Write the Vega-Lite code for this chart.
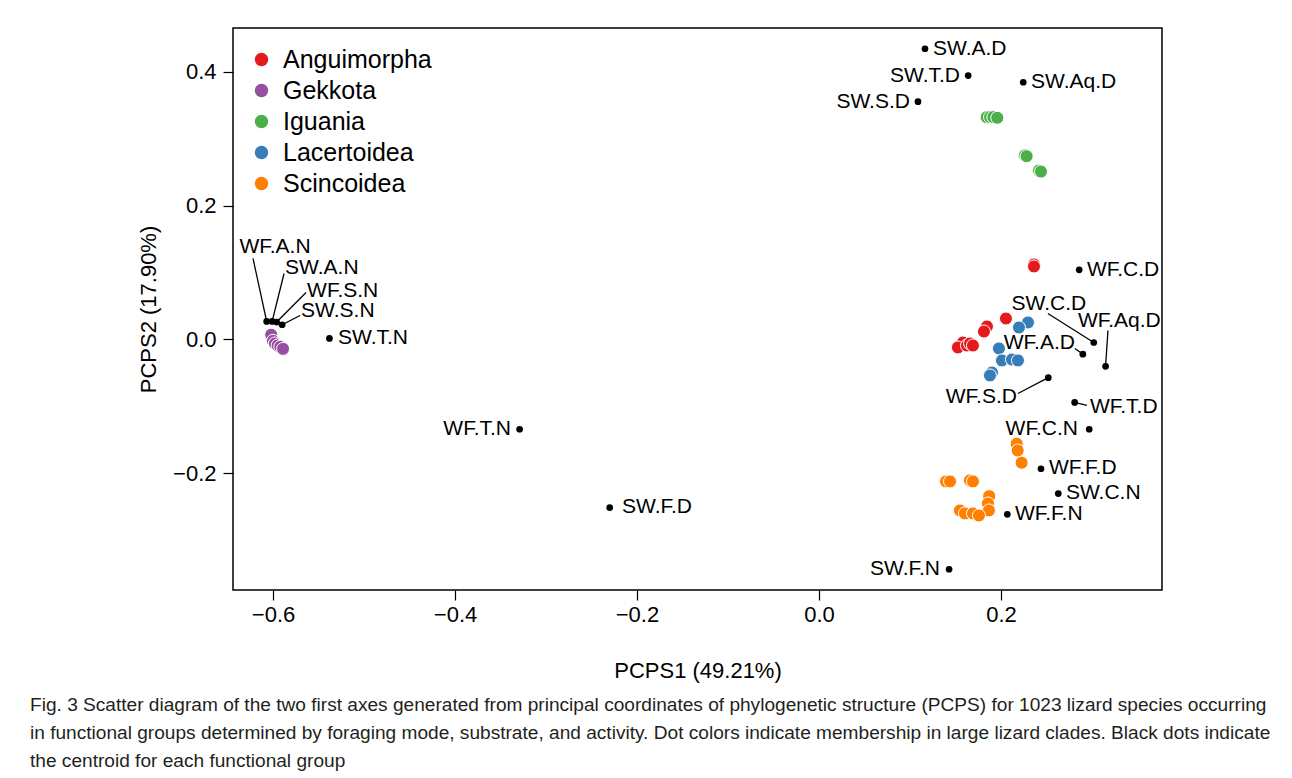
{
  "$schema": "https://vega.github.io/schema/vega-lite/v6.json",
  "width": 929,
  "height": 562,
  "autosize": "none",
  "padding": {"left": 233, "top": 28, "right": 130, "bottom": 188},
  "background": "white",
  "config": {
    "font": "Liberation Sans",
    "view": {"stroke": "black", "strokeWidth": 1.5},
    "axis": {
      "grid": false, "domain": false, "tickColor": "black", "tickWidth": 1.2,
      "tickSize": 10, "labelColor": "black", "labelFontSize": 22, "titleFontSize": 22,
      "titleFontWeight": "normal", "titleColor": "black", "labelFont": "Liberation Sans", "titleFont": "Liberation Sans"
    }
  },
  "title": {
    "text": [
      "Fig. 3  Scatter diagram of the two first axes generated from principal coordinates of phylogenetic structure (PCPS) for 1023 lizard species occurring",
      "in functional groups determined by foraging mode, substrate, and activity. Dot colors indicate membership in large lizard clades. Black dots indicate",
      "the centroid for each functional group"
    ],
    "orient": "bottom", "anchor": "start", "frame": "group", "dx": -203, "offset": 15,
    "font": "Liberation Sans", "fontSize": 19.1, "fontWeight": "normal", "lineHeight": 28, "color": "#231f20"
  },
  "datasets": {
    "clades": [
      {"clade": "Gekkota", "x": -0.602, "y": 0.007},
      {"clade": "Gekkota", "x": -0.600, "y": -0.002},
      {"clade": "Gekkota", "x": -0.598, "y": -0.006},
      {"clade": "Gekkota", "x": -0.595, "y": -0.009},
      {"clade": "Gekkota", "x": -0.592, "y": -0.011},
      {"clade": "Gekkota", "x": -0.589, "y": -0.014},
      {"clade": "Iguania", "x": 0.1843, "y": 0.3318},
      {"clade": "Iguania", "x": 0.188, "y": 0.332},
      {"clade": "Iguania", "x": 0.1916, "y": 0.332},
      {"clade": "Iguania", "x": 0.196, "y": 0.331},
      {"clade": "Iguania", "x": 0.2264, "y": 0.275},
      {"clade": "Iguania", "x": 0.2282, "y": 0.2736},
      {"clade": "Iguania", "x": 0.2418, "y": 0.2522},
      {"clade": "Iguania", "x": 0.244, "y": 0.2507},
      {"clade": "Anguimorpha", "x": 0.2363, "y": 0.112},
      {"clade": "Anguimorpha", "x": 0.2363, "y": 0.109},
      {"clade": "Anguimorpha", "x": 0.2055, "y": 0.0313},
      {"clade": "Anguimorpha", "x": 0.1846, "y": 0.0194},
      {"clade": "Anguimorpha", "x": 0.1813, "y": 0.0119},
      {"clade": "Anguimorpha", "x": 0.1582, "y": -0.0045},
      {"clade": "Anguimorpha", "x": 0.1527, "y": -0.0119},
      {"clade": "Anguimorpha", "x": 0.1626, "y": -0.009},
      {"clade": "Anguimorpha", "x": 0.166, "y": -0.006},
      {"clade": "Anguimorpha", "x": 0.1692, "y": -0.009},
      {"clade": "Lacertoidea", "x": 0.2297, "y": 0.0254},
      {"clade": "Lacertoidea", "x": 0.2198, "y": 0.0179},
      {"clade": "Lacertoidea", "x": 0.1978, "y": -0.0134},
      {"clade": "Lacertoidea", "x": 0.2011, "y": -0.0313},
      {"clade": "Lacertoidea", "x": 0.2121, "y": -0.0299},
      {"clade": "Lacertoidea", "x": 0.2187, "y": -0.0313},
      {"clade": "Lacertoidea", "x": 0.1901, "y": -0.0493},
      {"clade": "Lacertoidea", "x": 0.1879, "y": -0.0537},
      {"clade": "Scincoidea", "x": 0.2173, "y": -0.1557},
      {"clade": "Scincoidea", "x": 0.2184, "y": -0.1657},
      {"clade": "Scincoidea", "x": 0.2227, "y": -0.184},
      {"clade": "Scincoidea", "x": 0.1396, "y": -0.2119},
      {"clade": "Scincoidea", "x": 0.144, "y": -0.2119},
      {"clade": "Scincoidea", "x": 0.1659, "y": -0.2104},
      {"clade": "Scincoidea", "x": 0.1692, "y": -0.2119},
      {"clade": "Scincoidea", "x": 0.1871, "y": -0.2339},
      {"clade": "Scincoidea", "x": 0.1857, "y": -0.2448},
      {"clade": "Scincoidea", "x": 0.1868, "y": -0.2552},
      {"clade": "Scincoidea", "x": 0.1549, "y": -0.2552},
      {"clade": "Scincoidea", "x": 0.1604, "y": -0.2597},
      {"clade": "Scincoidea", "x": 0.1692, "y": -0.2597},
      {"clade": "Scincoidea", "x": 0.1758, "y": -0.2627}
    ],
    "centroids": [
      {"name": "SW.A.D", "x": 0.1165, "y": 0.434, "tx": 0.1253, "ty": 0.434, "anchor": "start"},
      {"name": "SW.T.D", "x": 0.164, "y": 0.394, "tx": 0.155, "ty": 0.394, "anchor": "end"},
      {"name": "SW.Aq.D", "x": 0.2245, "y": 0.384, "tx": 0.233, "ty": 0.384, "anchor": "start"},
      {"name": "SW.S.D", "x": 0.1088, "y": 0.355, "tx": 0.100, "ty": 0.355, "anchor": "end"},
      {"name": "WF.C.D", "x": 0.286, "y": 0.104, "tx": 0.2945, "ty": 0.104, "anchor": "start"},
      {"name": "SW.C.D", "x": 0.302, "y": -0.0045, "tx": 0.2527, "ty": 0.0537, "anchor": "middle", "lx": 0.2516, "ly": 0.0388},
      {"name": "WF.Aq.D", "x": 0.315, "y": -0.040, "tx": 0.2846, "ty": 0.0269, "anchor": "start", "lx": 0.3176, "ly": 0.0134},
      {"name": "WF.A.D", "x": 0.290, "y": -0.022, "tx": 0.2813, "ty": -0.006, "anchor": "end", "lx": 0.2813, "ly": -0.0134},
      {"name": "WF.S.D", "x": 0.252, "y": -0.057, "tx": 0.2176, "ty": -0.0866, "anchor": "end", "lx": 0.2187, "ly": -0.0806},
      {"name": "WF.T.D", "x": 0.281, "y": -0.094, "tx": 0.2978, "ty": -0.1015, "anchor": "start", "lx": 0.2945, "ly": -0.0985},
      {"name": "WF.C.N", "x": 0.297, "y": -0.134, "tx": 0.2846, "ty": -0.134, "anchor": "end"},
      {"name": "WF.F.D", "x": 0.244, "y": -0.193, "tx": 0.2527, "ty": -0.1925, "anchor": "start"},
      {"name": "SW.C.N", "x": 0.263, "y": -0.230, "tx": 0.2714, "ty": -0.2299, "anchor": "start"},
      {"name": "WF.F.N", "x": 0.207, "y": -0.261, "tx": 0.2154, "ty": -0.261, "anchor": "start"},
      {"name": "SW.F.N", "x": 0.143, "y": -0.343, "tx": 0.133, "ty": -0.343, "anchor": "end"},
      {"name": "WF.T.N", "x": -0.329, "y": -0.134, "tx": -0.3385, "ty": -0.134, "anchor": "end"},
      {"name": "SW.F.D", "x": -0.230, "y": -0.251, "tx": -0.2165, "ty": -0.2507, "anchor": "start"},
      {"name": "SW.T.N", "x": -0.538, "y": 0.0015, "tx": -0.5286, "ty": 0.0015, "anchor": "start"},
      {"name": "WF.A.N", "x": -0.607, "y": 0.027, "tx": -0.5978, "ty": 0.1388, "anchor": "middle", "lx": -0.622, "ly": 0.121},
      {"name": "SW.A.N", "x": -0.601, "y": 0.027, "tx": -0.5868, "ty": 0.106, "anchor": "start", "lx": -0.5879, "ly": 0.0985},
      {"name": "WF.S.N", "x": -0.596, "y": 0.026, "tx": -0.5626, "ty": 0.0731, "anchor": "start", "lx": -0.5637, "ly": 0.0701},
      {"name": "SW.S.N", "x": -0.590, "y": 0.022, "tx": -0.5692, "ty": 0.0418, "anchor": "start", "lx": -0.5703, "ly": 0.0358}
    ]
  },
  "layer": [
    {
      "data": {"name": "clades"},
      "mark": {"type": "point", "shape": "circle", "filled": true, "size": 170, "opacity": 1, "stroke": "white", "strokeWidth": 1},
      "encoding": {
        "x": {"field": "x", "type": "quantitative", "title": "PCPS1 (49.21%)",
              "scale": {"domain": [-0.644, 0.377], "nice": false, "zero": false},
              "axis": {"values": [-0.6, -0.4, -0.2, 0, 0.2], "format": ".1f", "labelPadding": 4, "titlePadding": 35}},
        "y": {"field": "y", "type": "quantitative", "title": "PCPS2 (17.90%)",
              "scale": {"domain": [-0.374, 0.465], "nice": false, "zero": false},
              "axis": {"values": [-0.2, 0, 0.2, 0.4], "format": ".1f", "labelPadding": 7, "titlePadding": 12}},
        "color": {"field": "clade", "type": "nominal",
                  "scale": {"domain": ["Anguimorpha", "Gekkota", "Iguania", "Lacertoidea", "Scincoidea"],
                            "range": ["#E41A1C", "#984EA3", "#4DAF4A", "#377EB8", "#FF7F00"]},
                  "legend": {"orient": "none", "legendX": 16, "legendY": 19, "title": null, "padding": 0,
                             "labelFontSize": 25, "labelColor": "black", "symbolSize": 180, "symbolType": "circle",
                             "symbolStrokeWidth": 0, "rowPadding": 5, "labelOffset": 9}}
      }
    },
    {
      "data": {"name": "centroids"},
      "transform": [{"filter": "isValid(datum.lx)"}],
      "mark": {"type": "rule", "color": "black", "strokeWidth": 1.3},
      "encoding": {
        "x": {"field": "x", "type": "quantitative", "title": "PCPS1 (49.21%)"},
        "y": {"field": "y", "type": "quantitative", "title": "PCPS2 (17.90%)"},
        "x2": {"field": "lx"},
        "y2": {"field": "ly"}
      }
    },
    {
      "data": {"name": "centroids"},
      "mark": {"type": "point", "shape": "circle", "filled": true, "size": 45, "color": "black", "opacity": 1},
      "encoding": {
        "x": {"field": "x", "type": "quantitative", "title": "PCPS1 (49.21%)"},
        "y": {"field": "y", "type": "quantitative", "title": "PCPS2 (17.90%)"}
      }
    },
    {
      "data": {"name": "centroids"},
      "transform": [{"filter": "datum.anchor == 'start'"}],
      "mark": {"type": "text", "align": "left", "baseline": "middle", "fontSize": 21, "color": "black"},
      "encoding": {
        "x": {"field": "tx", "type": "quantitative", "title": "PCPS1 (49.21%)"},
        "y": {"field": "ty", "type": "quantitative", "title": "PCPS2 (17.90%)"},
        "text": {"field": "name"}
      }
    },
    {
      "data": {"name": "centroids"},
      "transform": [{"filter": "datum.anchor == 'end'"}],
      "mark": {"type": "text", "align": "right", "baseline": "middle", "fontSize": 21, "color": "black"},
      "encoding": {
        "x": {"field": "tx", "type": "quantitative", "title": "PCPS1 (49.21%)"},
        "y": {"field": "ty", "type": "quantitative", "title": "PCPS2 (17.90%)"},
        "text": {"field": "name"}
      }
    },
    {
      "data": {"name": "centroids"},
      "transform": [{"filter": "datum.anchor == 'middle'"}],
      "mark": {"type": "text", "align": "center", "baseline": "middle", "fontSize": 21, "color": "black"},
      "encoding": {
        "x": {"field": "tx", "type": "quantitative", "title": "PCPS1 (49.21%)"},
        "y": {"field": "ty", "type": "quantitative", "title": "PCPS2 (17.90%)"},
        "text": {"field": "name"}
      }
    }
  ]
}
